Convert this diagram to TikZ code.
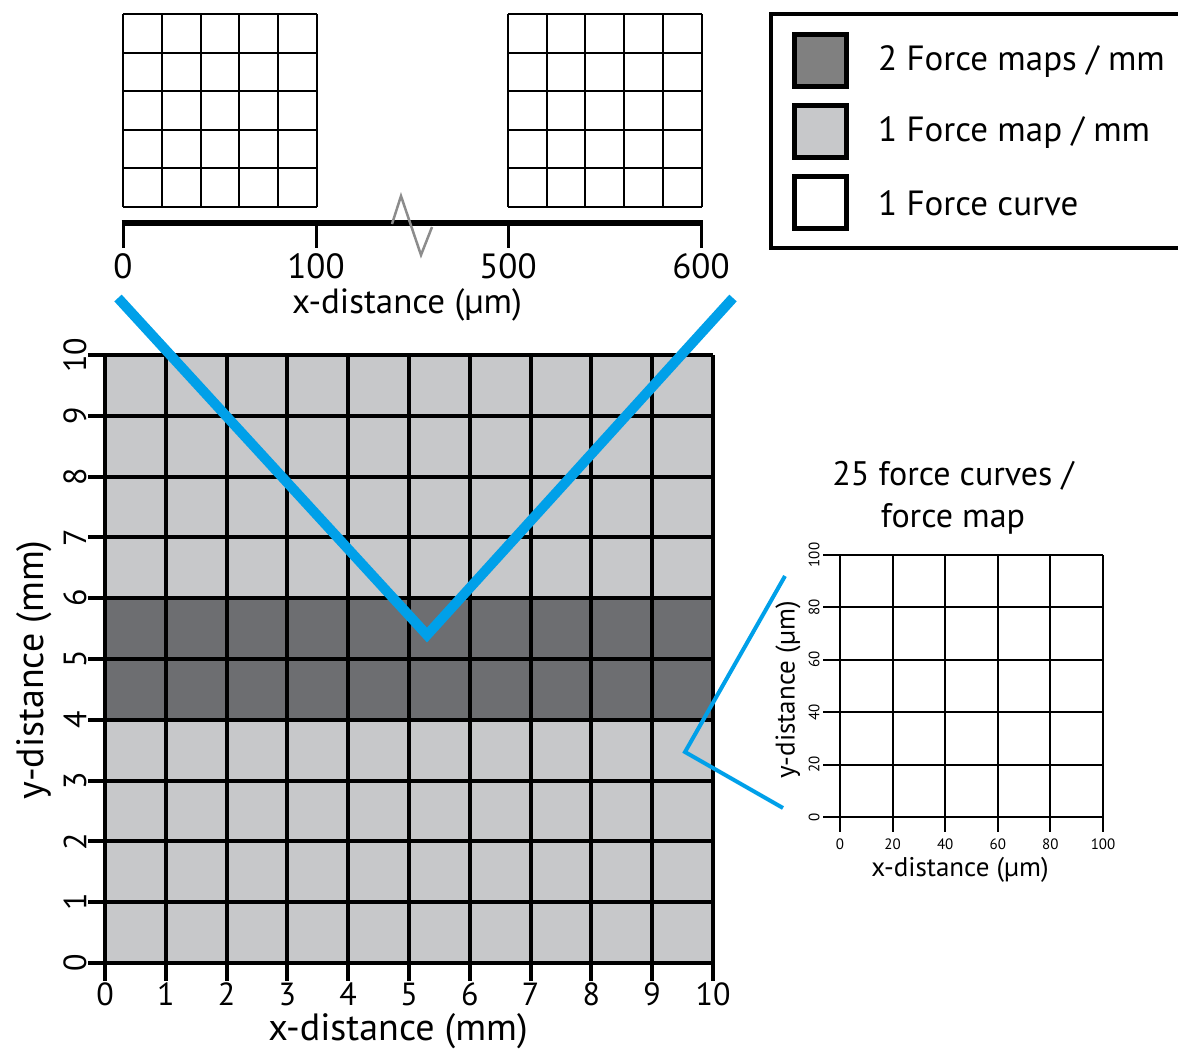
\documentclass[tikz,border=0pt]{standalone}
\usepackage{fontspec}
\setmainfont{PT Sans}
\definecolor{lightmap}{HTML}{C7C8CA}
\definecolor{darkmap}{HTML}{6D6E71}
\definecolor{swatchdark}{HTML}{808080}
\definecolor{zoomblue}{HTML}{00A0E9}
\begin{document}
\begin{tikzpicture}[
	x=1pt, y=-1pt,
	thickgrid/.style={ black, line width=4pt },
	thingrid/.style={ black, line width=2pt },
	zoomline/.style={ zoomblue, line width=10pt },
	zoomthin/.style={ zoomblue, line width=4pt },
	swatch/.style={ draw, line width=5pt, minimum size=52pt, inner sep=0pt },
	bigtext/.style={ font=\fontsize{38}{42}\selectfont, inner sep=0pt },
	numtext/.style={ font=\fontsize{32}{36}\selectfont, inner sep=0pt },
	midtext/.style={ font=\fontsize{35}{38}\selectfont, inner sep=0pt },
	insettext/.style={ font=\fontsize{34}{38}\selectfont, inner sep=0pt },
	smalltext/.style={ font=\fontsize{27}{30}\selectfont, inner sep=0pt },
	ticktext/.style={ font=\fontsize{15}{17}\selectfont, inner sep=0pt }
]
\useasboundingbox (0,0) rectangle (1178,1052);

% main map, 10 x 10 mm
\fill[lightmap] (105,355) rectangle (713,963);
\fill[darkmap] (105,598) rectangle (713,720);
\foreach \i in {0,...,10} {
	\draw[thickgrid] ({105+60.8*\i},355) -- ({105+60.8*\i},981);
	\draw[thickgrid] (88,{963-60.8*\i}) -- (713,{963-60.8*\i});
	\node at ({105+60.8*\i},994) (mx\i) [numtext] {\i};
	\node at (75,{963-60.8*\i}) (my\i) [numtext,rotate=90] {\i};
}
\node at (398,1031) (mmx) [bigtext] {x-distance (mm)};
\node at (34,670) (mmy) [bigtext,rotate=90] {y-distance (mm)};

% top strip of force curves
\foreach \i in {0,...,5} {
	\draw[thingrid] ({123+38.8*\i},14) -- ({123+38.8*\i},207);
	\draw[thingrid] (123,{14+38.6*\i}) -- (317,{14+38.6*\i});
	\draw[thingrid] ({508+38.7*\i},14) -- ({508+38.7*\i},207);
	\draw[thingrid] (508,{14+38.6*\i}) -- (701.5,{14+38.6*\i});
}
\draw[black, line width=6pt] (121.5,223) -- (702.5,223);
\foreach \x/\t in {123/0, 316/100, 508/500, 701/600} {
	\draw[black, line width=3pt] (\x,223) -- (\x,248);
	\node at (\x,266) (um\t) [midtext] {\t};
}
\draw[black!45, line width=2.5pt] (392,224) -- (401,196) -- (421,255) -- (432,227);
\node at (407,305) (umx) [midtext] {x-distance (µm)};

% legend
\draw[black, line width=4pt] (1185,14) -- (771,14) -- (771,248) -- (1185,248);
\node at (820,60) (swdark) [swatch, fill=swatchdark] {};
\node at (820,131) (swlight) [swatch, fill=lightmap] {};
\node at (820,202) (swwhite) [swatch, fill=white] {};
\node at (878,62) (labdark) [midtext, anchor=west] {2 Force maps / mm};
\node at (878,133) (lablight) [midtext, anchor=west] {1 Force map / mm};
\node at (878,203) (labwhite) [midtext, anchor=west] {1 Force curve};

% single force map, 100 x 100 um
\node at (953,476) (ttl1) [insettext] {25 force curves /};
\node at (953,519) (ttl2) [insettext] {force map};
\foreach \i/\t in {0/0, 1/20, 2/40, 3/60, 4/80, 5/100} {
	\draw[thingrid] ({840+52.6*\i},555) -- ({840+52.6*\i},832);
	\draw[thingrid] (823,{817-52.4*\i}) -- (1103,{817-52.4*\i});
	\node at ({840+52.6*\i},844) (fx\i) [ticktext] {\t};
	\node at (814,{817-52.4*\i}) (fy\i) [ticktext,rotate=90] {\t};
}
\node at (960,870) (fmx) [smalltext] {x-distance (µm)};
\node at (788,690) (fmy) [smalltext,rotate=90] {y-distance (µm)};

% zoom lines
\coordinate (vleft) at (118,298);
\coordinate (vtip) at (427,635);
\coordinate (vright) at (733,298);
\draw[zoomline] (vleft) -- (vtip) -- (vright);
\coordinate (wtop) at (785,576);
\coordinate (wtip) at (685,752);
\coordinate (wbot) at (783,808);
\draw[zoomthin] (wtop) -- (wtip) -- (wbot);
\end{tikzpicture}
\end{document}
